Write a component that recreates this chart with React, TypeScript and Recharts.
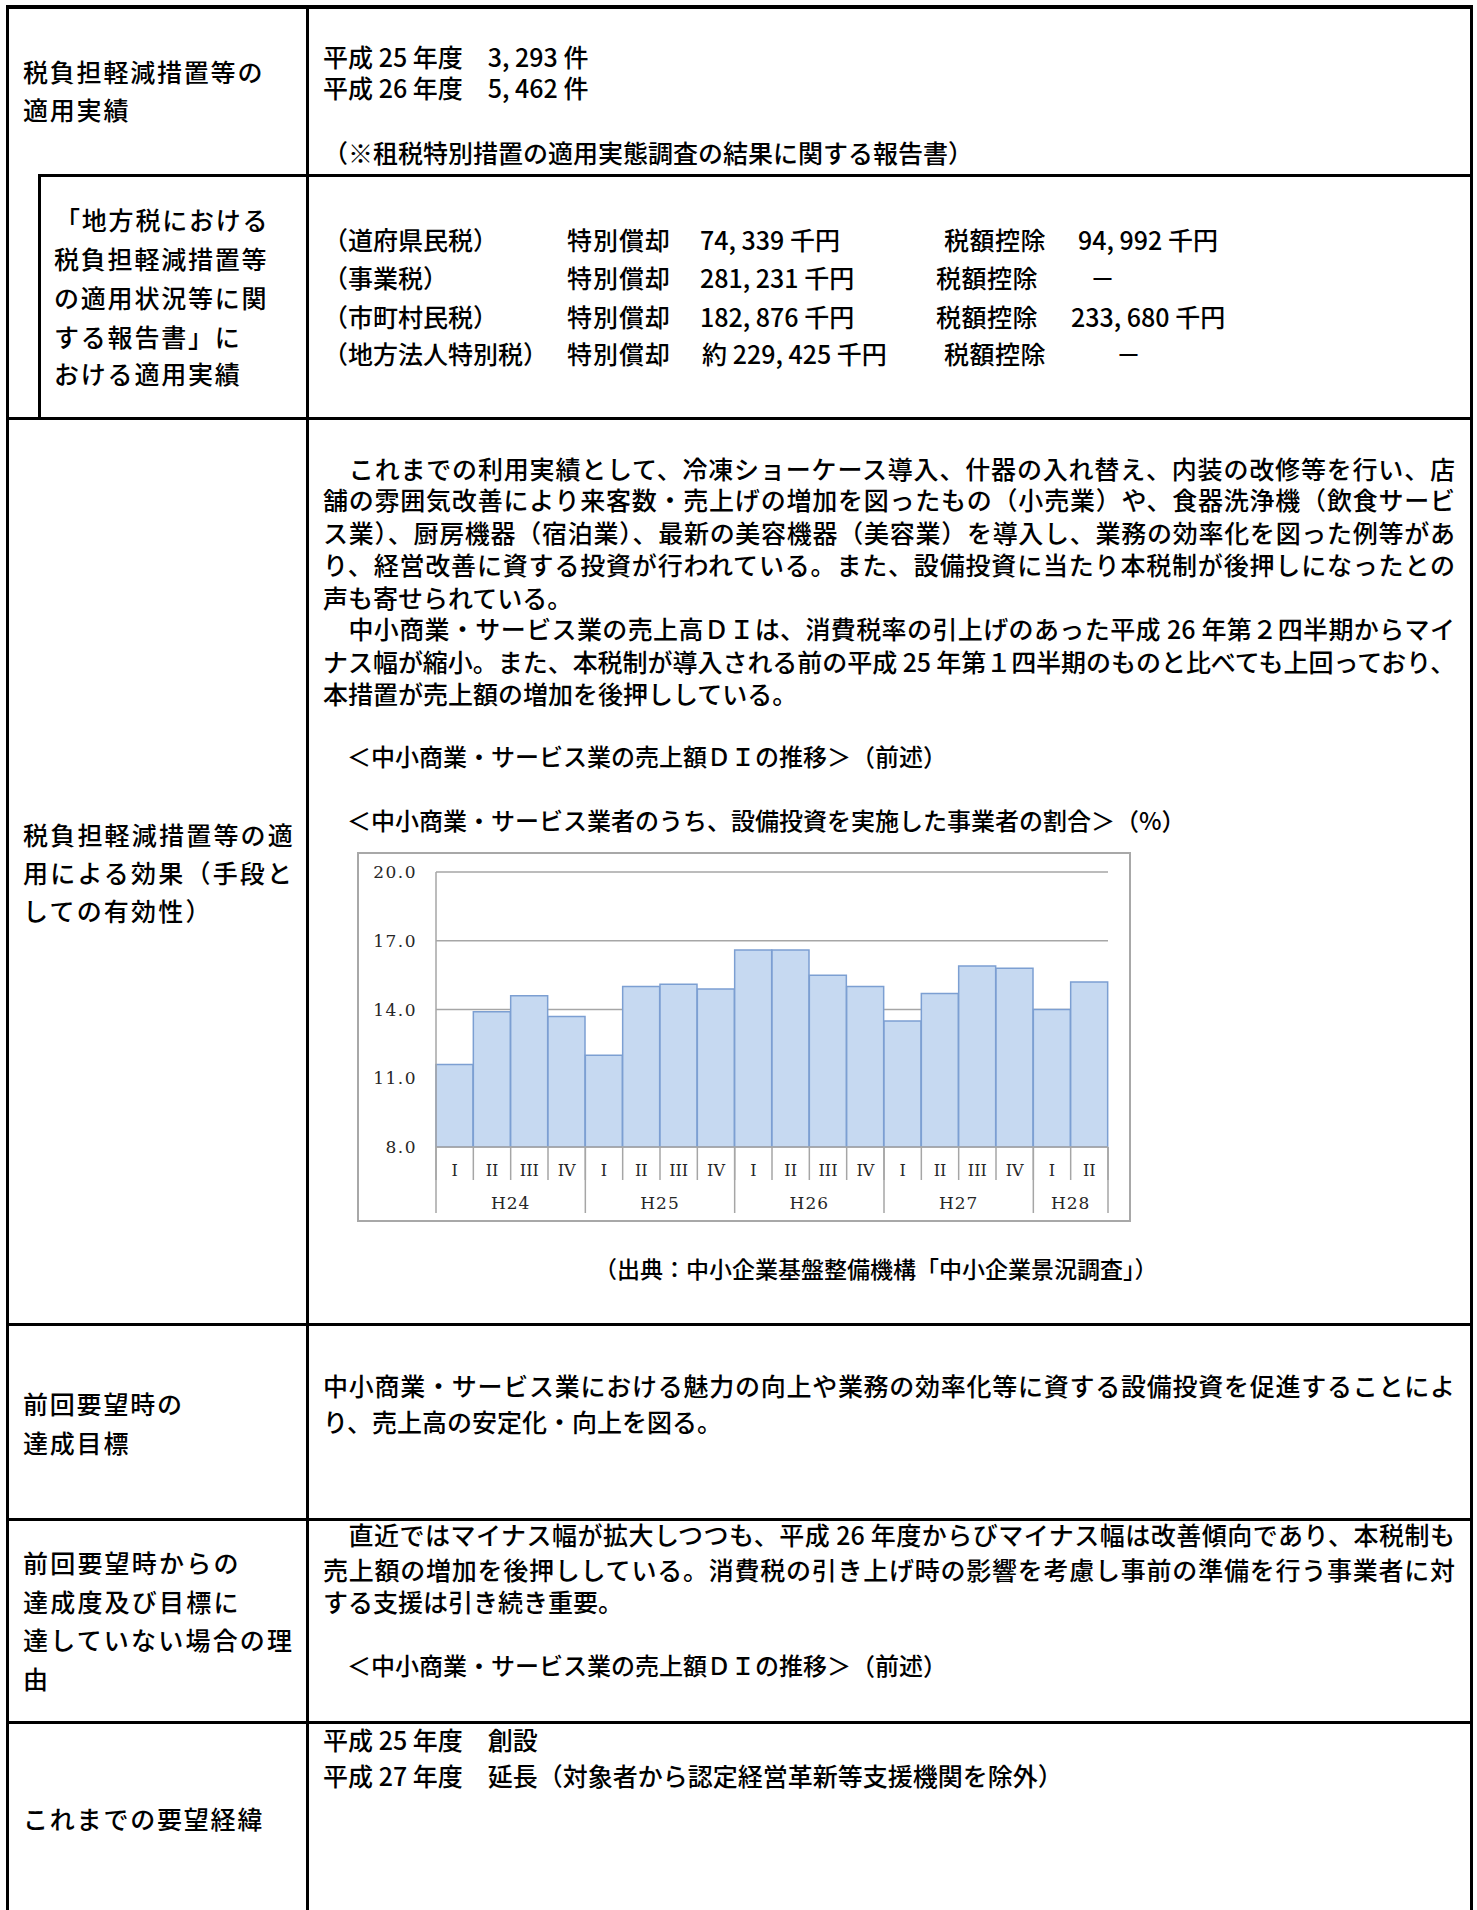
import React from 'react';
import { BarChart, Bar, XAxis, YAxis, CartesianGrid } from 'recharts';

// 中小商業・サービス業者のうち、設備投資を実施した事業者の割合 (%)
const QUARTERS = ['I', 'II', 'III', 'IV', 'I', 'II', 'III', 'IV', 'I', 'II', 'III', 'IV', 'I', 'II', 'III', 'IV', 'I', 'II'];
const YEARS = ['H24', 'H24', 'H24', 'H24', 'H25', 'H25', 'H25', 'H25', 'H26', 'H26', 'H26', 'H26', 'H27', 'H27', 'H27', 'H27', 'H28', 'H28'];
const RATES = [11.6, 13.9, 14.6, 13.7, 12.0, 15.0, 15.1, 14.9, 16.6, 16.6, 15.5, 15.0, 13.5, 14.7, 15.9, 15.8, 14.0, 15.2];
const Y_TICKS = [8, 11, 14, 17, 20];

const data = RATES.map((rate, i) => ({
  key: `${YEARS[i]}-${QUARTERS[i]}`,
  q: QUARTERS[i],
  year: YEARS[i],
  first: i === 0 || YEARS[i - 1] !== YEARS[i],
  span: YEARS.filter(y => y === YEARS[i]).length,
  rate,
}));

const CHART_W = 770;
const CHART_H = 366;
const Y_AXIS_W = 77;
const MARGIN = { top: 18, right: 21, bottom: 7, left: 0 };
const AXIS_H = 33;
const BAND = (CHART_W - Y_AXIS_W - MARGIN.right - MARGIN.left) / RATES.length;

const GRID = '#a6a6a6';
const INK = '#262626';
const SERIF = '"DejaVu Serif", serif';
const JP = '"Noto Sans CJK JP", sans-serif';

function QuarterTick(props: any) {
  const { x, y, index } = props;
  const left = x - BAND / 2;
  const last = index === data.length - 1;
  return (
    <g>
      <line x1={left} x2={left} y1={y} y2={y + AXIS_H} stroke={GRID} strokeWidth={1.5} />
      {last && <line x1={x + BAND / 2} x2={x + BAND / 2} y1={y} y2={y + AXIS_H} stroke={GRID} strokeWidth={1.5} />}
      <text x={x} y={y + 23} textAnchor="middle" dominantBaseline="central" fontFamily={SERIF} fontSize={16} fill={INK}>
        {data[index].q}
      </text>
    </g>
  );
}

function YearTick(props: any) {
  const { x, y, index } = props;
  const d = data[index];
  const left = x - BAND / 2;
  const last = index === data.length - 1;
  return (
    <g>
      {d.first && <line x1={left} x2={left} y1={y - AXIS_H} y2={y + AXIS_H} stroke={GRID} strokeWidth={1.5} />}
      {last && <line x1={x + BAND / 2} x2={x + BAND / 2} y1={y - AXIS_H} y2={y + AXIS_H} stroke={GRID} strokeWidth={1.5} />}
      {d.first && (
        <text x={left + (d.span * BAND) / 2} y={y + 23} textAnchor="middle" dominantBaseline="central"
          fontFamily={SERIF} fontSize={17} letterSpacing={1} fill={INK}>
          {d.year}
        </text>
      )}
    </g>
  );
}

function RateChart() {
  return (
    <BarChart width={CHART_W} height={CHART_H} data={data} margin={MARGIN} barCategoryGap={0} barGap={0}>
      <CartesianGrid xAxisId="q" vertical={false} stroke={GRID} strokeWidth={1.5} />
      <XAxis xAxisId="q" dataKey="key" interval={0} height={AXIS_H} tickLine={false} tickSize={0} tickMargin={0}
        axisLine={{ stroke: GRID, strokeWidth: 1.5 }} tick={QuarterTick} />
      <XAxis xAxisId="year" dataKey="key" interval={0} height={AXIS_H} tickLine={false} tickSize={0} tickMargin={0}
        axisLine={false} tick={YearTick} />
      <YAxis width={Y_AXIS_W} domain={[8, 20]} ticks={Y_TICKS} allowDataOverflow tickLine={false} tickSize={0} tickMargin={19}
        axisLine={{ stroke: GRID, strokeWidth: 1.5 }} tickFormatter={(v: number) => v.toFixed(1)}
        tick={{ fontFamily: SERIF, fontSize: 17, fill: INK, letterSpacing: 1.5 }} />
      <Bar xAxisId="q" dataKey="rate" fill="#c6d9f1" stroke="#7c9fd2" strokeWidth={1.5} isAnimationActive={false} />
    </BarChart>
  );
}

function HL({ x1, x2, y, t = 3 }: { x1: number; x2: number; y: number; t?: number }) {
  return <div style={{ position: 'absolute', left: x1, top: y - t / 2, width: x2 - x1, height: t, background: '#000' }} />;
}
function VL({ x, y1, y2, t = 3 }: { x: number; y1: number; y2: number; t?: number }) {
  return <div style={{ position: 'absolute', left: x - t / 2, top: y1, width: t, height: y2 - y1, background: '#000' }} />;
}

function T({ x, cy, size = 25, ls = 0, w, justify, children }: {
  x: number; cy: number; size?: number; ls?: number; w?: number; justify?: boolean; children: React.ReactNode;
}) {
  const lh = Math.round(size * 1.2);
  return (
    <div style={{
      position: 'absolute', left: x, top: cy - lh / 2 - size * 0.056, fontSize: size, lineHeight: `${lh}px`,
      letterSpacing: ls, width: w, whiteSpace: justify ? 'normal' : 'nowrap', fontWeight: 500,
      textAlign: justify ? 'justify' : 'left', textAlignLast: justify ? 'justify' : 'auto', color: '#000',
    }}>
      {children}
    </div>
  );
}

const RX = 323;
const RW = 1132;

export default function App() {
  return (
    <div style={{ position: 'absolute', left: 0, top: 0, width: 1477, height: 1910, background: '#fff', overflow: 'hidden', fontFamily: JP }}>
      {/* table rules */}
      <HL x1={6} x2={1472} y={7} t={4} />
      <VL x={7} y1={5} y2={1910} />
      <VL x={1471} y1={5} y2={1910} />
      <VL x={307} y1={5} y2={1910} />
      <HL x1={38} x2={1472} y={175} />
      <VL x={39} y1={174} y2={418} />
      <HL x1={6} x2={1472} y={418} />
      <HL x1={6} x2={1472} y={1324} />
      <HL x1={6} x2={1472} y={1519} />
      <HL x1={6} x2={1472} y={1722} />

      {/* row 1 */}
      <T x={23} cy={72} ls={1.8}>税負担軽減措置等の</T>
      <T x={23} cy={110} ls={1.8}>適用実績</T>
      <T x={RX} cy={57}>平成 25 年度　3, 293 件</T>
      <T x={RX} cy={88}>平成 26 年度　5, 462 件</T>
      <T x={RX} cy={153}>（※租税特別措置の適用実態調査の結果に関する報告書）</T>

      {/* row 2 */}
      <T x={55} cy={220} ls={1.8}>「地方税における</T>
      <T x={54} cy={259} ls={1.8}>税負担軽減措置等</T>
      <T x={54} cy={298} ls={1.8}>の適用状況等に関</T>
      <T x={54} cy={337} ls={1.8}>する報告書」に</T>
      <T x={54} cy={374} ls={1.8}>おける適用実績</T>

      <T x={RX} cy={240}>（道府県民税）</T>
      <T x={567} cy={240} ls={1}>特別償却</T>
      <T x={700} cy={240}>74, 339 千円</T>
      <T x={944} cy={240} ls={0.5}>税額控除</T>
      <T x={1078} cy={240}>94, 992 千円</T>

      <T x={RX} cy={278}>（事業税）</T>
      <T x={567} cy={278} ls={1}>特別償却</T>
      <T x={700} cy={278}>281, 231 千円</T>
      <T x={936} cy={278} ls={0.5}>税額控除</T>
      <T x={1090} cy={278}>－</T>

      <T x={RX} cy={317}>（市町村民税）</T>
      <T x={567} cy={317} ls={1}>特別償却</T>
      <T x={700} cy={317}>182, 876 千円</T>
      <T x={936} cy={317} ls={0.5}>税額控除</T>
      <T x={1071} cy={317}>233, 680 千円</T>

      <T x={RX} cy={354}>（地方法人特別税）</T>
      <T x={567} cy={354} ls={1}>特別償却</T>
      <T x={702} cy={354}>約 229, 425 千円</T>
      <T x={944} cy={354} ls={0.5}>税額控除</T>
      <T x={1116} cy={354}>－</T>

      {/* row 3 */}
      <T x={23} cy={835} ls={2.2}>税負担軽減措置等の適</T>
      <T x={23} cy={873} ls={2.2}>用による効果（手段と</T>
      <T x={23} cy={911} ls={2.2}>しての有効性）</T>

      <T x={RX} cy={469} w={RW} justify>　これまでの利用実績として、冷凍ショーケース導入、什器の入れ替え、内装の改修等を行い、店</T>
      <T x={RX} cy={500} w={RW} justify>舗の雰囲気改善により来客数・売上げの増加を図ったもの（小売業）や、食器洗浄機（飲食サービ</T>
      <T x={RX} cy={533} w={RW} justify>ス業）、厨房機器（宿泊業）、最新の美容機器（美容業）を導入し、業務の効率化を図った例等があ</T>
      <T x={RX} cy={565} w={RW} justify>り、経営改善に資する投資が行われている。また、設備投資に当たり本税制が後押しになったとの</T>
      <T x={RX} cy={598}>声も寄せられている。</T>
      <T x={RX} cy={629} w={RW} justify>　中小商業・サービス業の売上高ＤＩは、消費税率の引上げのあった平成 26 年第２四半期からマイ</T>
      <T x={RX} cy={662} w={RW} ls={-0.3} justify>ナス幅が縮小。また、本税制が導入される前の平成 25 年第１四半期のものと比べても上回っており、</T>
      <T x={RX} cy={694}>本措置が売上額の増加を後押ししている。</T>

      <T x={347} cy={757} size={24}>＜中小商業・サービス業の売上額ＤＩの推移＞（前述）</T>
      <T x={347} cy={821} size={24}>＜中小商業・サービス業者のうち、設備投資を実施した事業者の割合＞（%）</T>

      <div style={{ position: 'absolute', left: 357, top: 852, width: 774, height: 370, border: '2px solid #a8a8a8', boxSizing: 'border-box', background: '#fff' }}>
        <RateChart />
      </div>

      <T x={594} cy={1269} size={23}>（出典：中小企業基盤整備機構「中小企業景況調査」）</T>

      {/* row 4 */}
      <T x={23} cy={1404} ls={1.8}>前回要望時の</T>
      <T x={23} cy={1443} ls={1.8}>達成目標</T>
      <T x={RX} cy={1386} w={RW} justify>中小商業・サービス業における魅力の向上や業務の効率化等に資する設備投資を促進することによ</T>
      <T x={RX} cy={1422}>り、売上高の安定化・向上を図る。</T>

      {/* row 5 */}
      <T x={23} cy={1563} ls={2.2}>前回要望時からの</T>
      <T x={23} cy={1602} ls={2.2}>達成度及び目標に</T>
      <T x={23} cy={1640} ls={2.2}>達していない場合の理</T>
      <T x={23} cy={1679} ls={2.2}>由</T>
      <T x={RX} cy={1535} w={RW} justify>　直近ではマイナス幅が拡大しつつも、平成 26 年度からびマイナス幅は改善傾向であり、本税制も</T>
      <T x={RX} cy={1570} w={RW} justify>売上額の増加を後押ししている。消費税の引き上げ時の影響を考慮し事前の準備を行う事業者に対</T>
      <T x={RX} cy={1602}>する支援は引き続き重要。</T>
      <T x={347} cy={1666} size={24}>＜中小商業・サービス業の売上額ＤＩの推移＞（前述）</T>

      {/* row 6 */}
      <T x={23} cy={1819} ls={1.8}>これまでの要望経緯</T>
      <T x={RX} cy={1740}>平成 25 年度　創設</T>
      <T x={RX} cy={1776}>平成 27 年度　延長（対象者から認定経営革新等支援機関を除外）</T>
    </div>
  );
}
